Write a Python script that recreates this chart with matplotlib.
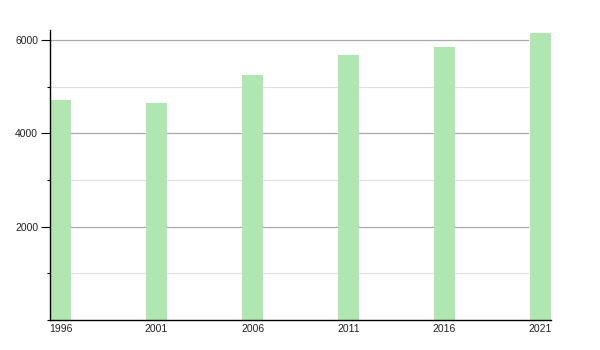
import matplotlib
matplotlib.use("Agg")
import matplotlib.pyplot as plt
from matplotlib.ticker import MultipleLocator

years = [1996, 2001, 2006, 2011, 2016, 2021]
population = [4714, 4656, 5250, 5679, 5843, 6143]
year_labels = ["1996", "2001", "2006", "2011", "2016", "2021"]

plt.rcParams['font.family'] = ['Liberation Sans', 'DejaVu Sans']

fig = plt.figure(figsize=(6, 3.5), dpi=100)
ax = fig.add_axes([50/600, 30/350, 501/600, 290/350])

bar_w = 1.1
ax.bar(years, population, width=bar_w, color='#b0e6b0', zorder=3)

ax.set_xlim(years[0] - bar_w/2, years[-1] + bar_w/2)
ax.set_ylim(0, 6214)

for v in [2000, 4000, 6000]:
    ax.axhline(v, xmin=0, xmax=0.954, color='#aaaaaa', lw=0.9, zorder=1)
for v in [1000, 3000, 5000]:
    ax.axhline(v, xmin=0, xmax=0.954, color='#e0e0e0', lw=0.9, zorder=1)

ax.set_xticks(years)
ax.set_xticklabels(year_labels)
ax.tick_params(axis='x', length=0, pad=3, labelsize=7.5, labelcolor='#222222')
ax.yaxis.set_major_locator(MultipleLocator(2000))
ax.yaxis.set_minor_locator(MultipleLocator(1000))
ax.set_yticks([2000, 4000, 6000])
ax.tick_params(axis='y', which='major', length=6.5, width=0.8, labelsize=7.5, pad=2, labelcolor='#222222')
ax.tick_params(axis='y', which='minor', length=2.5, width=0.8)

for s in ['top', 'right']:
    ax.spines[s].set_visible(False)
for s in ['left', 'bottom']:
    ax.spines[s].set_linewidth(1.0)
    ax.spines[s].set_zorder(4)

fig.savefig('out.png', dpi=100)
